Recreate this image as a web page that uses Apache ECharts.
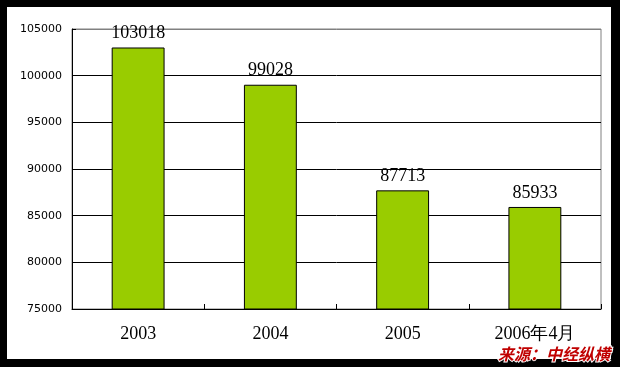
<!DOCTYPE html>
<html><head><meta charset="utf-8">
<script src="https://cdn.jsdelivr.net/npm/echarts@6/dist/echarts.min.js"></script>
<style>html,body{margin:0;padding:0;background:#000;}#c{width:620px;height:367px;}</style>
</head><body><div id="c"></div>
<script>
const categories = ['2003', '2004', '2005', '2006年4月'];
const values = [103018, 99028, 87713, 85933];
const yTicks = {min: 75000, max: 105000, interval: 5000};
const sourceText = '来源：中经纵横';

const chart = echarts.init(document.getElementById('c'), null, {renderer: 'canvas'});
chart.setOption({
  animation: false,
  backgroundColor: '#000',
  graphic: [
    {type: 'rect', z: -10, shape: {x: 7, y: 7, width: 604, height: 352}, style: {fill: '#fff'}},
    {type: 'text', z: 100, left: 497, top: 345, style: {text: sourceText, fill: '#c00000', font: 'italic bold 16px "Noto Sans CJK SC"', stroke: '#fff', lineWidth: 2}}
  ],
  grid: {left: 72, right: 19, top: 29, bottom: 58, show: true, borderColor: '#808080', borderWidth: 1, backgroundColor: 'transparent'},
  xAxis: {
    type: 'category', data: categories,
    axisLine: {lineStyle: {color: '#000', width: 1}},
    axisTick: {show: true, inside: true, length: 5, lineStyle: {color: '#000'}},
    axisLabel: {color: '#000', fontFamily: 'Liberation Serif', fontSize: 18, margin: 16}
  },
  yAxis: {
    type: 'value', min: yTicks.min, max: yTicks.max, interval: yTicks.interval,
    axisLine: {show: true, lineStyle: {color: '#000', width: 1}},
    axisTick: {show: true, inside: true, length: 4, lineStyle: {color: '#000'}},
    axisLabel: {color: '#000', fontFamily: 'DejaVu Sans', fontSize: 11, margin: 10, formatter: v => String(v)},
    splitLine: {show: true, lineStyle: {color: ['#000', '#000', '#000', '#000', '#000', '#000', '#808080'], width: 1}}
  },
  series: [{
    type: 'bar', data: values, barWidth: '40%',
    itemStyle: {color: '#99cc00', borderColor: '#000', borderWidth: 1},
    label: {show: true, position: 'top', distance: 5, color: '#000', fontFamily: 'Liberation Serif', fontSize: 18}
  }]
});
</script></body></html>
